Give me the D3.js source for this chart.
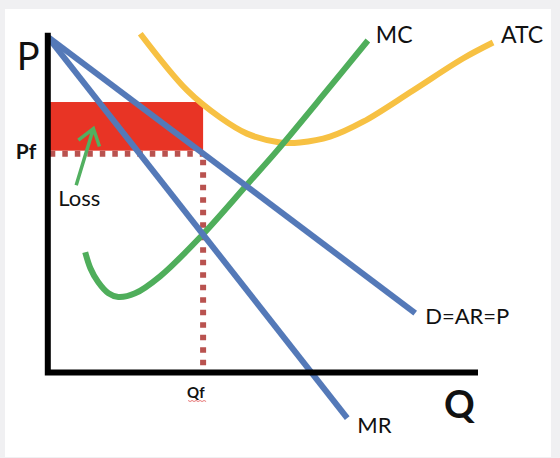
<!DOCTYPE html>
<html><head><meta charset="utf-8">
<script src="https://cdn.jsdelivr.net/npm/d3@7"></script>
<style>html,body{margin:0;padding:0;background:#f0f0f2;overflow:hidden;} svg{display:block;}</style>
</head><body>
<svg id="c" width="560" height="458"></svg>
<script>
// ---- data (quantity / price units) ----
const qf = 3.61;          // profit-maximising quantity (MC = MR)
const pf = 6.44;
const atcAtQf = 7.96;     // average total cost at qf
const demand = [[0, 9.88], [8.54, 1.75]];
const mr = [[0, 9.88], [6.96, -1.34]];
const mc = [[0.87,3.54],[0.99,3.07],[1.17,2.66],[1.41,2.33],[1.64,2.22],[2.03,2.33],[2.61,2.83],[3.54,3.98],[4.66,5.57],[5.33,6.53],[6.49,8.30],[7.44,9.77]];
const atc = [[2.15,9.97],[3.24,8.30],[4.01,7.50],[4.63,7.03],[5.40,6.77],[5.86,6.77],[6.56,6.94],[7.33,7.38],[8.49,8.30],[9.65,9.24],[10.35,9.71]];
const lossArrow = [[0.66, 5.51], [1.06, 7.18]];
const curveLabels = ["MC", "ATC", "D=AR=P", "MR"];
const axisLabels = {price: "P", quantity: "Q", pf: "Pf", qf: "Qf", loss: "Loss"};

// ---- layout ----
const svg = d3.select("#c");
const x = d3.scaleLinear().domain([0, 10]).range([47.8, 478]);
const y = d3.scaleLinear().domain([0, 10]).range([372.5, 32.7]);
const font = "Lato, 'Open Sans', sans-serif";
const dotW = 6;

svg.append("rect").attr("x", 5).attr("y", 9).attr("width", 546).attr("height", 448).attr("fill", "#ffffff");

const line = d3.line().x(d => x(d[0])).y(d => y(d[1]));
const smooth = d3.line().x(d => x(d[0])).y(d => y(d[1])).curve(d3.curveCatmullRom.alpha(0.5));

// loss rectangle (ends where the dotted price guide begins)
svg.append("rect")
  .attr("x", x(0)).attr("y", y(atcAtQf))
  .attr("width", x(qf) - x(0)).attr("height", y(pf) - dotW / 2 - y(atcAtQf))
  .attr("fill", "#e83425");

// dotted guides
const dotStyle = s => s.attr("fill", "none").attr("stroke", "#b9524f").attr("stroke-width", dotW).attr("stroke-dasharray", "5.5,7");
svg.append("path").attr("d", line([[0, pf], [qf, pf]])).call(dotStyle).attr("stroke-dashoffset", -2);
svg.append("path").attr("d", line([[qf, pf], [qf, 0]])).call(dotStyle).attr("stroke-dashoffset", -6);

// curves
svg.append("path").attr("d", smooth(atc)).attr("fill", "none").attr("stroke", "#f7c143").attr("stroke-width", 6);
svg.append("path").attr("d", smooth(mc)).attr("fill", "none").attr("stroke", "#4fae5b").attr("stroke-width", 6);
svg.append("path").attr("d", line(demand)).attr("fill", "none").attr("stroke", "#5479b8").attr("stroke-width", 6);
svg.append("path").attr("d", line(mr)).attr("fill", "none").attr("stroke", "#5479b8").attr("stroke-width", 6);

// axes
svg.append("path").attr("d", line([[0, 10], [0, 0], [10, 0]]))
  .attr("fill", "none").attr("stroke", "#000").attr("stroke-width", 6)
  .attr("stroke-linejoin", "miter").attr("stroke-linecap", "butt");

// loss arrow
const [t0, t1] = lossArrow;
const ax0 = x(t0[0]), ay0 = y(t0[1]), ax1 = x(t1[0]), ay1 = y(t1[1]);
const ang = Math.atan2(ay1 - ay0, ax1 - ax0);
const hl = 19, ha = 0.62;
const arm = s => [ax1 - hl * Math.cos(ang + s * ha), ay1 - hl * Math.sin(ang + s * ha)];
const a1 = arm(1), a2 = arm(-1);
svg.append("path")
  .attr("d", `M${ax0},${ay0}L${ax1},${ay1}M${a1[0]},${a1[1]}L${ax1},${ay1}L${a2[0]},${a2[1]}`)
  .attr("fill", "none").attr("stroke", "#52b060").attr("stroke-width", 3.5)
  .attr("stroke-linejoin", "miter").attr("stroke-linecap", "butt");

// curve labels
const ends = [mc[mc.length - 1], atc[atc.length - 1], demand[1], mr[1]];
const offs = [[8, 2], [8, 0], [10, 11], [10, 15]];
const sizes = [23, 23, 22, 22];
curveLabels.forEach((t, i) => {
  svg.append("text").attr("x", x(ends[i][0]) + offs[i][0]).attr("y", y(ends[i][1]) + offs[i][1])
    .attr("font-family", font).attr("font-size", sizes[i]).attr("fill", "#111").text(t);
});

// axis labels
svg.append("text").attr("x", x(0) - 31).attr("y", y(10) + 37).attr("font-family", font).attr("font-size", 38).attr("fill", "#111").text(axisLabels.price);
svg.append("text").attr("x", x(0) - 32).attr("y", y(pf) + 5).attr("font-family", font).attr("font-size", 21).attr("font-weight", "bold").attr("fill", "#111").text(axisLabels.pf);
svg.append("text").attr("x", x(10) - 34).attr("y", y(0) + 45).attr("font-family", font).attr("font-size", 38).attr("font-weight", "bold").attr("fill", "#111").text(axisLabels.quantity);
svg.append("text").attr("x", x(qf) - 16).attr("y", y(0) + 25).attr("font-family", font).attr("font-size", 15).attr("font-weight", "bold").attr("fill", "#111").text(axisLabels.qf);
svg.append("text").attr("x", x(t0[0]) - 18).attr("y", y(t0[1]) + 21).attr("font-family", font).attr("font-size", 22).attr("fill", "#111").text(axisLabels.loss);

// spell-check squiggle under Qf
const sx = x(qf) - 15, sy = y(0) + 28;
const sq = d3.range(0, 10).map(i => [sx + i * 2, sy + (i % 2 ? 1 : 0)]);
svg.append("path").attr("d", d3.line()(sq)).attr("fill", "none").attr("stroke", "#e05050").attr("stroke-width", 0.8);
</script>
</body></html>
